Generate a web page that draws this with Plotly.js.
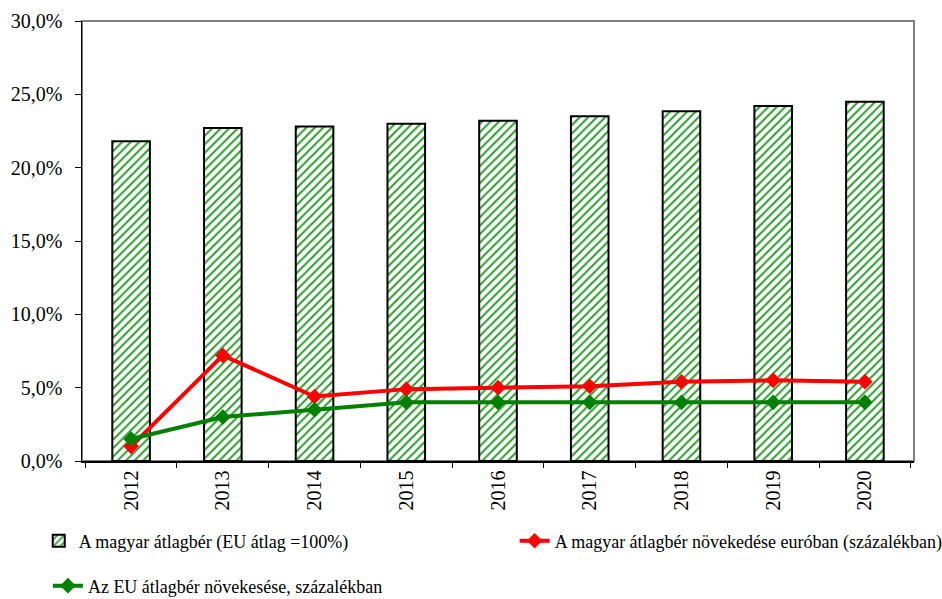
<!DOCTYPE html>
<html>
<head>
<meta charset="utf-8">
<script src="https://cdn.plot.ly/plotly-3.0.1.min.js"></script>
<style>html,body{margin:0;padding:0;background:#fff;}#chart{width:942px;height:599px;}</style>
</head>
<body>
<div id="chart"></div>
<script>
const years = ['2012','2013','2014','2015','2016','2017','2018','2019','2020'];
const wageRatio = [21.8, 22.7, 22.8, 23.0, 23.2, 23.5, 23.85, 24.2, 24.5];
const huGrowth = [1.0, 7.2, 4.4, 4.9, 5.0, 5.1, 5.4, 5.5, 5.4];
const euGrowth = [1.5, 3.0, 3.5, 4.0, 4.0, 4.0, 4.0, 4.0, 4.0];
const yTicks = [0, 5, 10, 15, 20, 25, 30];
const yTickText = ['0,0%', '5,0%', '10,0%', '15,0%', '20,0%', '25,0%', '30,0%'];
const names = ['A magyar átlagbér (EU átlag =100%)',
               'A magyar átlagbér növekedése euróban (százalékban)',
               'Az EU átlagbér növekesése, százalékban'];

const font = 'Liberation Serif';

const traces = [
  {
    type: 'bar', x: years, y: wageRatio, name: names[0],
    marker: {color: '#ffffff', line: {color: '#000000', width: 2},
             pattern: {shape: '/', fgcolor: '#2f9e2f', bgcolor: '#ffffff', size: 6, solidity: 0.35}},
    legend: 'legend'
  },
  {
    type: 'scatter', mode: 'lines+markers', x: years, y: huGrowth, name: names[1],
    line: {color: '#ff0000', width: 4},
    marker: {symbol: 'diamond', size: 12, color: '#ff0000'},
    legend: 'legend2'
  },
  {
    type: 'scatter', mode: 'lines+markers', x: years, y: euGrowth, name: names[2],
    line: {color: '#008000', width: 4},
    marker: {symbol: 'diamond', size: 12, color: '#008000'},
    legend: 'legend3'
  }
];

const legFont = {family: font, size: 18, color: '#000'};
const layout = {
  width: 942, height: 599,
  margin: {l: 82, r: 28, t: 21, b: 138, autoexpand: false},
  paper_bgcolor: '#ffffff', plot_bgcolor: '#ffffff',
  font: {family: font, size: 20, color: '#000000'},
  bargap: 0.59,
  showlegend: true,
  xaxis: {
    type: 'category', tickangle: -90, tickson: 'boundaries',
    ticks: 'outside', ticklen: 5, tickcolor: '#000', tickwidth: 1,
    showline: true, linecolor: '#000', linewidth: 1.5,
    showgrid: false, zeroline: false,
    tickfont: {family: font, size: 20}
  },
  yaxis: {
    range: [0, 30], tickvals: yTicks, ticktext: yTickText,
    ticks: 'outside', ticklen: 6, tickcolor: '#000', tickwidth: 1,
    showline: true, linecolor: '#000', linewidth: 1.5,
    showgrid: false, zeroline: false,
    ticklabelstandoff: 8,
    tickfont: {family: font, size: 20}
  },
  shapes: [{
    type: 'rect', xref: 'paper', yref: 'paper', x0: 0, x1: 1, y0: 0, y1: 1,
    line: {color: '#808080', width: 2}, layer: 'below'
  }],
  legend: {
    orientation: 'h', x: -0.052, xanchor: 'left', y: -0.182, yanchor: 'middle',
    font: legFont, bgcolor: 'rgba(0,0,0,0)'
  },
  legend2: {
    orientation: 'h', x: 0.520, xanchor: 'left', y: -0.182, yanchor: 'middle',
    font: legFont, bgcolor: 'rgba(0,0,0,0)'
  },
  legend3: {
    orientation: 'h', x: -0.041, xanchor: 'left', y: -0.284, yanchor: 'middle',
    font: legFont, bgcolor: 'rgba(0,0,0,0)'
  }
};

Plotly.newPlot('chart', traces, layout, {displayModeBar: false, staticPlot: true});
</script>
</body>
</html>
